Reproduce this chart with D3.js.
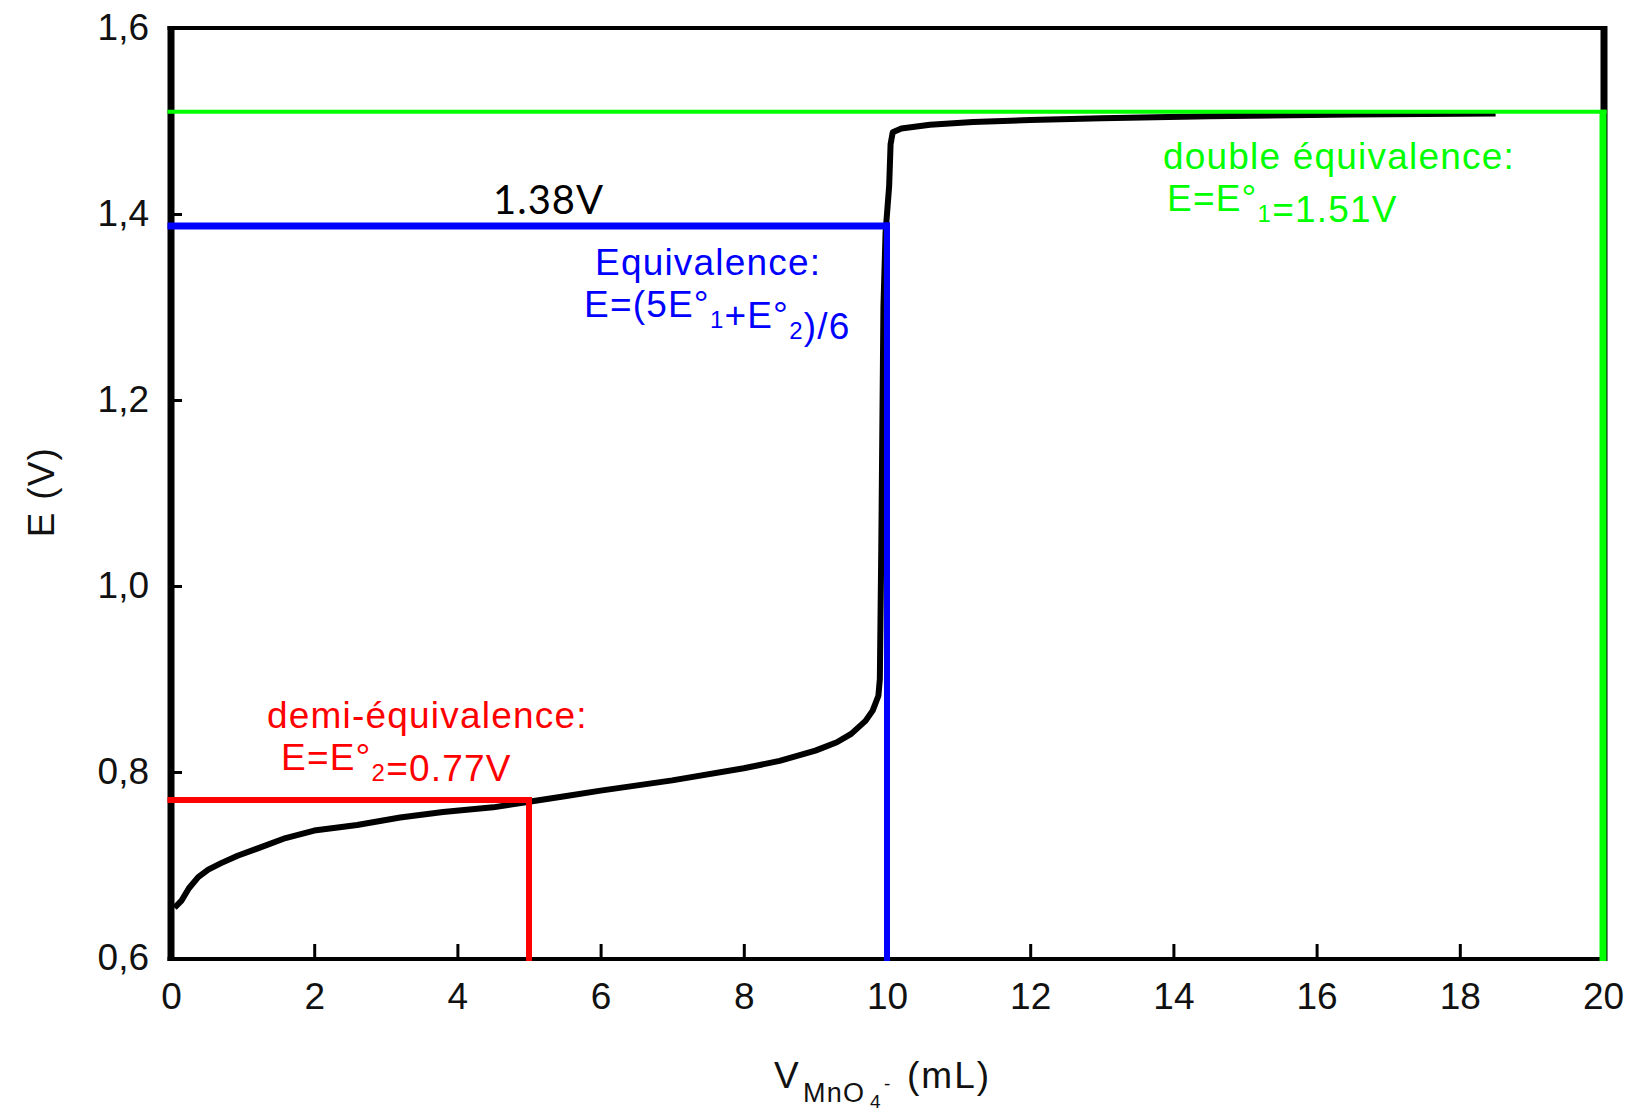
<!DOCTYPE html>
<html lang="fr">
<head>
  <meta charset="UTF-8">
  <title>Titrage Fe2+ / MnO4-</title>
  <style>
    body { margin: 0; background: #fff; }
    svg { display: block; }
    .lbl { font-family: "Liberation Sans", Arial, sans-serif; font-size: 37px; letter-spacing: 1.2px; }
  </style>
  <script src="https://d3js.org/d3.v7.min.js"></script>
</head>
<body>
  <div id="chart"></div>
  <script>
  // axes
  const xTicks = [0, 2, 4, 6, 8, 10, 12, 14, 16, 18, 20];
  const yTicks = [0.6, 0.8, 1.0, 1.2, 1.4, 1.6];
  const yTickLabels = ['0,6', '0,8', '1,0', '1,2', '1,4', '1,6'];

  // titration curve
  const volume = [0.05, 0.15, 0.25, 0.38, 0.52, 0.7, 0.93, 1.25, 1.6, 2.0, 2.6, 3.2, 3.8, 4.5,
                  5.0, 5.5, 6.0, 7.0, 8.0, 8.5, 9.0, 9.3, 9.5, 9.7, 9.8, 9.88, 9.9, 9.92, 9.95,
                  9.98, 10.03, 10.05, 10.08, 10.2, 10.6, 11.2, 12, 13, 14.5, 16.5, 18.5];
  const potential = [0.654, 0.662, 0.675, 0.687, 0.695, 0.702, 0.710, 0.719, 0.729, 0.737, 0.743, 0.751, 0.757, 0.762,
                     0.768, 0.774, 0.780, 0.791, 0.804, 0.812, 0.823, 0.832, 0.841, 0.855, 0.866, 0.882, 0.90, 1.04, 1.30,
                     1.38, 1.43, 1.475, 1.488, 1.492, 1.496, 1.499, 1.501, 1.503, 1.505, 1.507, 1.508];

  // remarkable points
  const halfEq   = { v: 5,  e: 0.77 };
  const eq       = { v: 10, e: 1.387 };
  const doubleEq = { v: 20, e: 1.51 };

  const W = 1635, H = 1114;
  const svg = d3.select('#chart').append('svg').attr('width', W).attr('height', H);

  const x = d3.scaleLinear().domain([0, 20]).range([171, 1603]);
  const y = d3.scaleLinear().domain([0.6, 1.6]).range([958, 28]);

  // x axis (ticks inward)
  const gx = svg.append('g')
    .attr('transform', `translate(0,${y(0.6)})`)
    .call(d3.axisBottom(x).tickValues(xTicks).tickFormat(d3.format('d'))
      .tickSizeInner(-14).tickSizeOuter(0).tickPadding(0));
  gx.select('.domain').remove();
  gx.selectAll('line').attr('stroke', '#000').attr('stroke-width', 3);
  gx.selectAll('text')
    .attr('y', 51).attr('dy', null)
    .attr('fill', '#111')
    .style('font-family', '"Liberation Sans", Arial, sans-serif')
    .style('font-size', '37px');

  // y axis
  const gy = svg.append('g')
    .attr('transform', `translate(${x(0)},0)`)
    .call(d3.axisLeft(y).tickValues(yTicks).tickFormat((d, i) => yTickLabels[i])
      .tickSizeInner(-11).tickSizeOuter(0).tickPadding(22));
  gy.select('.domain').remove();
  gy.selectAll('line').attr('stroke', '#000').attr('stroke-width', 3);
  gy.selectAll('text')
    .attr('fill', '#111')
    .style('font-family', '"Liberation Sans", Arial, sans-serif')
    .style('font-size', '37px');

  // frame
  const frame = svg.append('g').attr('stroke', '#000');
  frame.append('line').attr('x1', x(0) - 3.5).attr('x2', x(20) + 3.5)
    .attr('y1', y(1.6)).attr('y2', y(1.6)).attr('stroke-width', 4);
  frame.append('line').attr('x1', x(0) - 3.5).attr('x2', x(20) + 3.5)
    .attr('y1', y(0.6) + 1).attr('y2', y(0.6) + 1).attr('stroke-width', 4);
  frame.append('line').attr('x1', x(0)).attr('x2', x(0))
    .attr('y1', y(1.6) - 2).attr('y2', y(0.6) + 3).attr('stroke-width', 7);
  frame.append('line').attr('x1', x(20) + 1).attr('x2', x(20) + 1)
    .attr('y1', y(1.6) - 2).attr('y2', y(0.6) + 3).attr('stroke-width', 7);

  // curve
  const pts = volume.map((v, i) => [v, potential[i]]);
  svg.append('path')
    .datum(pts)
    .attr('fill', 'none')
    .attr('stroke', '#000')
    .attr('stroke-width', 6)
    .attr('stroke-linejoin', 'round')
    .attr('d', d3.line().x(d => x(d[0])).y(d => y(d[1])));

  // guide lines
  function guide(p, color, hw, vw) {
    svg.append('line').attr('stroke', color).attr('stroke-width', hw)
      .attr('x1', x(0) - 3.5).attr('x2', x(p.v) + vw / 2)
      .attr('y1', y(p.e)).attr('y2', y(p.e));
    svg.append('line').attr('stroke', color).attr('stroke-width', vw)
      .attr('x1', x(p.v)).attr('x2', x(p.v))
      .attr('y1', y(p.e) - hw / 2).attr('y2', y(0.6) + 3);
  }
  guide(halfEq, '#ff0000', 6, 6);
  guide(eq, '#0000ff', 7, 6);
  guide(doubleEq, '#00ff00', 4, 7);

  // annotations
  function twoLines(color, x1, y1, line1, x2, y2, parts) {
    svg.append('text').attr('class', 'lbl').attr('fill', color)
      .attr('x', x1).attr('y', y1).text(line1);
    const t = svg.append('text').attr('class', 'lbl').attr('fill', color)
      .attr('x', x2).attr('y', y2);
    parts.forEach(p => {
      if (p.sub) {
        t.append('tspan').attr('dy', 11).style('font-size', '24px').text(p.sub);
        t.append('tspan').attr('dy', -11).text('');
      } else {
        t.append('tspan').text(p.t);
      }
    });
  }

  twoLines('#ff0000', 267, 728, 'demi-équivalence:', 281, 770,
    [{ t: 'E=E°' }, { sub: '2' }, { t: '=0.77V' }]);
  twoLines('#0000ff', 595, 275, 'Equivalence:', 584, 317,
    [{ t: 'E=(5E°' }, { sub: '1' }, { t: '+E°' }, { sub: '2' }, { t: ')/6' }]);
  twoLines('#00ff00', 1163, 169, 'double équivalence:', 1167, 211,
    [{ t: 'E=E°' }, { sub: '1' }, { t: '=1.51V' }]);

  svg.append('text')
    .attr('x', 493).attr('y', 214)
    .attr('fill', '#000')
    .style('font-family', 'Lato, "Open Sans", sans-serif')
    .style('font-size', '40px')
    .style('letter-spacing', '1px')
    .text('1.38V');

  // axis titles
  svg.append('text').attr('class', 'lbl')
    .attr('transform', 'translate(54,492) rotate(-90)')
    .attr('text-anchor', 'middle')
    .attr('fill', '#111')
    .text('E (V)');

  const xt = svg.append('text').attr('class', 'lbl').attr('fill', '#111');
  xt.append('tspan').attr('x', 774).attr('y', 1088).text('V');
  xt.append('tspan').attr('x', 803).attr('y', 1102).style('font-size', '27px').text('MnO');
  xt.append('tspan').attr('x', 870).attr('y', 1108).style('font-size', '19px').text('4');
  xt.append('tspan').attr('x', 884).attr('y', 1090).style('font-size', '19px').text('-');
  xt.append('tspan').attr('x', 907).attr('y', 1088).style('letter-spacing', '2px').text('(mL)');
  </script>
</body>
</html>
